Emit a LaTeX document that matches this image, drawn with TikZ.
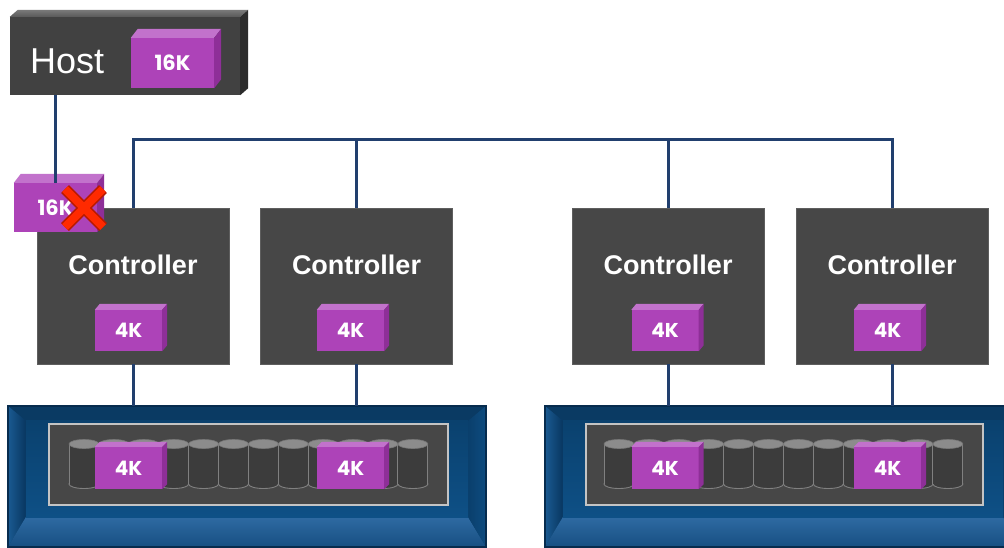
\documentclass[tikz,border=0pt]{standalone}
\usepackage{fontspec}
\setmainfont{Liberation Sans}
\newfontfamily\geofont{Poppins}
\usetikzlibrary{calc}

\definecolor{pfront}{HTML}{AD43B8}
\definecolor{ptopc}{HTML}{C272CC}
\definecolor{psidec}{HTML}{8E2F98}
\definecolor{ctrlgray}{HTML}{474747}
\definecolor{ctrledge}{HTML}{5E5E5E}
\definecolor{hostfront}{HTML}{414141}
\definecolor{hostside}{HTML}{2C2C2C}
\definecolor{hosttopa}{HTML}{7A7A7A}
\definecolor{hosttopb}{HTML}{5A5A5A}
\definecolor{linkblue}{HTML}{213F6E}
\definecolor{arrouter}{HTML}{0B416F}
\definecolor{arredge}{HTML}{072C4E}
\definecolor{bevtop}{HTML}{0A3A63}
\definecolor{panelgray}{HTML}{474747}
\definecolor{paneledge}{HTML}{C4C4C4}
\definecolor{cylbody}{HTML}{3C3C3C}
\definecolor{cyledge}{HTML}{808080}
\definecolor{cyltop}{HTML}{8C8C8C}
\definecolor{xred}{HTML}{FF2A00}
\definecolor{xdark}{HTML}{B81A00}
\definecolor{bevla}{HTML}{1A5A92}
\definecolor{bevlb}{HTML}{083660}
\definecolor{bevba}{HTML}{2E6AA2}
\definecolor{bevbm}{HTML}{5A8FC2}
\definecolor{bevbb}{HTML}{174F82}
\definecolor{bevra}{HTML}{0A3F6C}
\definecolor{bevrb}{HTML}{0E4C80}
\definecolor{innera}{HTML}{0A416E}
\definecolor{innerb}{HTML}{0E5086}

\tikzset{
  cubefront/.style={fill=pfront, inner sep=0pt, text=white,
    font=\geofont\bfseries\fontsize{20}{22}\selectfont},
  bigcube/.style={font=\geofont\bfseries\fontsize{21}{23}\selectfont},
  ptopface/.style={fill=ptopc},
  psideface/.style={fill=psidec},
  link/.style={draw=linkblue, line width=3pt},
  ctrlbox/.style={fill=ctrlgray, draw=ctrledge, line width=0.8pt,
    minimum width=192pt, minimum height=156pt, inner sep=0pt},
  ctrllabel/.style={text=white, inner sep=0pt,
    font=\bfseries\fontsize{27}{30}\selectfont},
  hostbox/.style={fill=hostfront, minimum width=230pt, minimum height=78pt, inner sep=0pt},
  hostlabel/.style={text=white, inner sep=0pt, font=\fontsize{36}{40}\selectfont},
  arrframe/.style={fill=arrouter, minimum height=141pt, inner sep=0pt},
  panelbox/.style={fill=panelgray, draw=paneledge, line width=2pt,
    minimum height=81pt, inner sep=0pt},
  cylfill/.style={fill=cylbody},
  cylline/.style={draw=cyledge, line width=0.9pt},
  cyltopface/.style={fill=cyltop, draw=cyltop!85!black, line width=0.6pt},
  xmarkout/.style={draw=xdark, line width=11pt},
  xmarkin/.style={draw=xred, line width=8pt},
}

% purple 3D box: name, cx, cy, w, h, dx, dy, text, extra style
\newcommand\pcube[9]{%
  \node[cubefront, #9, minimum width=#4pt, minimum height=#5pt] (#1) at (#2,#3) {#8};
  \fill[ptopface] (#1.north west) -- ++(#6,-#7) -- ($(#1.north east)+(#6,-#7)$) -- (#1.north east) -- cycle;
  \fill[psideface] (#1.north east) -- ++(#6,-#7) -- ($(#1.south east)+(#6,-#7)$) -- (#1.south east) -- cycle;
}

% storage array frame: name, center x, width
\newcommand\storarr[3]{%
  \node[arrframe, minimum width=#3pt] (#1) at (#2,476.5) {};
  \coordinate (#1ia) at ($(#1.north west)+(18,15)$);
  \coordinate (#1ib) at ($(#1.north east)+(-18,15)$);
  \coordinate (#1ic) at ($(#1.south east)+(-18,-30)$);
  \coordinate (#1id) at ($(#1.south west)+(18,-30)$);
  \fill[bevtop] (#1.north west) -- (#1.north east) -- (#1ib) -- (#1ia) -- cycle;
  \shade[left color=bevla, right color=bevlb] (#1.north west) -- (#1ia) -- (#1id) -- (#1.south west) -- cycle;
  \shade[top color=bevba, middle color=bevbm, bottom color=bevbb] (#1.south west) -- (#1id) -- (#1ic) -- (#1.south east) -- cycle;
  \shade[left color=bevra, right color=bevrb] (#1.north east) -- (#1.south east) -- (#1ic) -- (#1ib) -- cycle;
  \shade[top color=innera, bottom color=innerb] (#1ia) rectangle (#1ic);
  \draw[arredge, line width=1.5pt] (#1.north west) rectangle (#1.south east);
}

% cylinders: left x of first
\newcommand\cylrow[1]{%
  \foreach \i in {0,...,11}{%
    \pgfmathsetmacro\cx{#1+15+29.9*\i}
    \fill[cylfill] (\cx,484) ellipse (15 and 4.5);
    \draw[cylline] (\cx,484) ellipse (15 and 4.5);
    \fill[cylfill] (\cx-15,444) rectangle (\cx+15,484);
    \draw[cylline] (\cx-15,444) -- (\cx-15,484) (\cx+15,444) -- (\cx+15,484);
    \filldraw[cyltopface] (\cx,444) ellipse (15 and 4.5);
  }%
}

\begin{document}
\begin{tikzpicture}[x=1pt, y=-1pt]
\useasboundingbox (0,0) rectangle (1004,547);
\fill[white] (0,0) rectangle (1004,547);
\clip (0,0) rectangle (1004,547);

% controllers
\node[ctrlbox] (c1) at (133,286) {};
\node[ctrlbox] (c2) at (356.5,286) {};
\node[ctrlbox] (c3) at (668,286) {};
\node[ctrlbox] (c4) at (892,286) {};

% bus
\coordinate (bus) at (0,139);
\draw[link] (c1.north) -- (c1.north |- bus) -- (c4.north |- bus) -- (c4.north);
\draw[link] (c2.north) -- (c2.north |- bus);
\draw[link] (c3.north) -- (c3.north |- bus);

% controller labels
\node[ctrllabel, anchor=base] (c1l) at (133,274) {Controller};
\node[ctrllabel, anchor=base] (c2l) at (356.5,274) {Controller};
\node[ctrllabel, anchor=base] (c3l) at (668,274) {Controller};
\node[ctrllabel, anchor=base] (c4l) at (892,274) {Controller};

\pcube{c1k}{128.5}{330.5}{67}{41}{5}{6}{4K}{}
\pcube{c2k}{350.5}{330.5}{67}{41}{5}{6}{4K}{}
\pcube{c3k}{665}{330.5}{67}{41}{5}{6}{4K}{}
\pcube{c4k}{887.5}{330.5}{67}{41}{5}{6}{4K}{}

% storage arrays
\storarr{arr1}{247}{478}
\storarr{arr2}{783}{476}
\draw[link] (c1.south) -- (c1.south |- arr1.north);
\draw[link] (c2.south) -- (c2.south |- arr1.north);
\draw[link] (c3.south) -- (c3.south |- arr2.north);
\draw[link] (c4.south) -- (c4.south |- arr2.north);

\node[panelbox, minimum width=399pt] (pan1) at (248.5,464.5) {};
\node[panelbox, minimum width=397pt] (pan2) at (784.5,464.5) {};
\cylrow{69}
\cylrow{604}

\pcube{s1k}{128.5}{468}{67}{42}{5}{5}{4K}{}
\pcube{s2k}{350.5}{468}{67}{42}{5}{5}{4K}{}
\pcube{s3k}{665}{468}{67}{42}{5}{5}{4K}{}
\pcube{s4k}{887.5}{468}{67}{42}{5}{5}{4K}{}

% host
\node[hostbox] (host) at (125,56) {};
\shade[top color=hosttopa, bottom color=hosttopb] (host.north west) -- ++(8,-7) -- ($(host.north east)+(8,-7)$) -- (host.north east) -- cycle;
\fill[hostside] (host.north east) -- ++(8,-7) -- ($(host.south east)+(8,-7)$) -- (host.south east) -- cycle;
\node[hostlabel, anchor=base west] (hostl) at (30,73) {Host};
\pcube{hk}{172.5}{63}{83}{50}{7}{9}{16K}{bigcube}

% dropped 16K block
\pcube{dk}{55.5}{207.5}{83}{49}{7}{9}{16K}{bigcube}
\coordinate (hostport) at (55,95);
\draw[link] (hostport) -- (hostport |- dk.north);

% red cross
\coordinate (xc) at (84,208);
\draw[xmarkout] ($(xc)+(-19,-19)$) -- ($(xc)+(19,19)$) ($(xc)+(-19,19)$) -- ($(xc)+(19,-19)$);
\draw[xmarkin] ($(xc)+(-19,-19)$) -- ($(xc)+(19,19)$) ($(xc)+(-19,19)$) -- ($(xc)+(19,-19)$);
\end{tikzpicture}
\end{document}
